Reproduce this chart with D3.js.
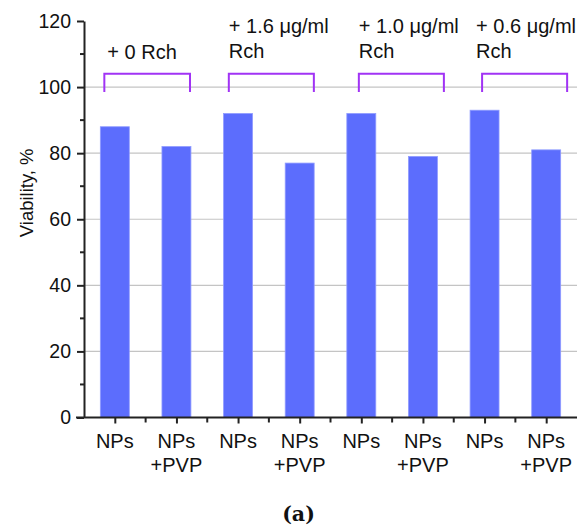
<!DOCTYPE html>
<html>
<head>
<meta charset="utf-8">
<script src="https://cdn.jsdelivr.net/npm/d3@7"></script>
<style>
  body { margin: 0; background: #fff; }
  svg text { font-family: "Liberation Sans", Arial, sans-serif; fill: #111; }
</style>
</head>
<body>
<div id="chart"></div>
<script>
// data
const categories = ["NPs", "NPs\n+PVP", "NPs", "NPs\n+PVP", "NPs", "NPs\n+PVP", "NPs", "NPs\n+PVP"];
const viability = [88, 82, 92, 77, 92, 79, 93, 81];
const yTicks = [0, 20, 40, 60, 80, 100, 120];
const groupLabels = [["+ 0 Rch"], ["+ 1.6 \u03bcg/ml", "Rch"], ["+ 1.0 \u03bcg/ml", "Rch"], ["+ 0.6 \u03bcg/ml", "Rch"]];
// bracket ends in category-index units
const bracketStart = [-0.17, 1.85, 3.96, 5.96];
const bracketEnd = [1.22, 3.23, 5.34, 7.34];
const bracketLow = 98.5, bracketHigh = 104;

const W = 577, H = 529;
const margin = { top: 21, right: 0, bottom: 111.5, left: 84 };
const width = W - margin.left - margin.right;
const height = H - margin.top - margin.bottom;

const svg = d3.select('#chart').append('svg')
    .attr('width', W).attr('height', H);

const g = svg.append('g')
    .attr('transform', 'translate(' + margin.left + ',' + margin.top + ')');

const idx = d3.range(categories.length);
const x = d3.scaleBand().domain(idx).range([0, width]).paddingInner(0.53).paddingOuter(0.265);
const xc = d3.scaleLinear().domain([-0.5, categories.length - 0.5]).range([0, width]);
const y = d3.scaleLinear().domain([0, 120]).range([height, 0]);

// grid
g.append('g').selectAll('line')
    .data(yTicks.filter(t => t > 0 && t < 120))
    .enter().append('line')
    .attr('x1', 0).attr('x2', width)
    .attr('y1', d => y(d)).attr('y2', d => y(d))
    .attr('stroke', '#c4c4c4').attr('stroke-width', 1.2);

// bars
g.append('g').selectAll('rect')
    .data(viability)
    .enter().append('rect')
    .attr('x', (d, i) => x(i))
    .attr('width', x.bandwidth())
    .attr('y', d => y(d))
    .attr('height', d => height - y(d))
    .attr('fill', '#5c6dfd')
    .attr('stroke', '#8f9bff').attr('stroke-width', 0.8);

// y axis
const yAxis = g.append('g')
    .call(d3.axisLeft(y).tickValues(yTicks).tickSize(7).tickPadding(6).tickSizeOuter(0));
yAxis.select('.domain').attr('stroke', '#222').attr('stroke-width', 2);
yAxis.selectAll('.tick line').attr('stroke', '#222').attr('stroke-width', 2);
yAxis.selectAll('.tick text').style('font-size', '19.5px').attr('fill', '#111');
// minor y ticks
g.append('g').selectAll('line')
    .data(d3.range(10, 120, 20))
    .enter().append('line')
    .attr('x1', -4).attr('x2', 0)
    .attr('y1', d => y(d)).attr('y2', d => y(d))
    .attr('stroke', '#222').attr('stroke-width', 2);

// x axis
const xAxis = g.append('g')
    .attr('transform', 'translate(0,' + height + ')')
    .call(d3.axisBottom(xc).tickValues(idx).tickSize(6).tickFormat(''));
xAxis.select('.domain').attr('stroke', '#222').attr('stroke-width', 2).attr('d', 'M-8,0H' + width);
xAxis.selectAll('.tick line').attr('stroke', '#222').attr('stroke-width', 2);
// minor x ticks at band edges
xAxis.append('g').selectAll('line')
    .data(d3.range(1, categories.length))
    .enter().append('line')
    .attr('x1', d => xc(d - 0.5)).attr('x2', d => xc(d - 0.5))
    .attr('y1', 0).attr('y2', 5)
    .attr('stroke', '#222').attr('stroke-width', 2);

// x labels (two lines)
const xl = g.append('g').selectAll('text')
    .data(categories)
    .enter().append('text')
    .attr('text-anchor', 'middle')
    .attr('transform', (d, i) => 'translate(' + xc(i) + ',' + (height + 30.5) + ')')
    .style('font-size', '20px');
xl.selectAll('tspan')
    .data(d => d.split('\n'))
    .enter().append('tspan')
    .attr('x', 0)
    .attr('dy', (d, i) => i === 0 ? 0 : 24)
    .text(d => d);

// y title
g.append('text')
    .attr('transform', 'translate(' + (-51) + ',' + (y(68)) + ') rotate(-90)')
    .attr('text-anchor', 'middle')
    .style('font-size', '18.5px')
    .text('Viability, %');

// brackets
const br = g.append('g');
bracketStart.forEach((s, i) => {
    const x0 = xc(s), x1 = xc(bracketEnd[i]);
    br.append('path')
        .attr('d', 'M' + x0 + ',' + y(bracketLow) + 'V' + y(bracketHigh) + 'H' + x1 + 'V' + y(bracketLow))
        .attr('fill', 'none')
        .attr('stroke', '#a133f5')
        .attr('stroke-width', 2);
    const lines = groupLabels[i];
    const t = br.append('text')
        .attr('y', lines.length === 1 ? y(bracketHigh) - 15 : y(bracketHigh) - 41)
        .style('font-size', '20px');
    lines.forEach((l, k) => {
        t.append('tspan').attr('x', x0 + (i === 0 ? 3 : (i === 3 ? -6 : 0))).attr('dy', k === 0 ? 0 : 25).text(l);
    });
});

// caption
svg.append('text')
    .attr('x', 298.5)
    .attr('y', 521)
    .attr('text-anchor', 'middle')
    .style('font-family', '"DejaVu Serif", "Liberation Serif", serif')
    .style('font-weight', 'bold')
    .style('font-size', '20.5px')
    .text('(a)');
</script>
</body>
</html>
